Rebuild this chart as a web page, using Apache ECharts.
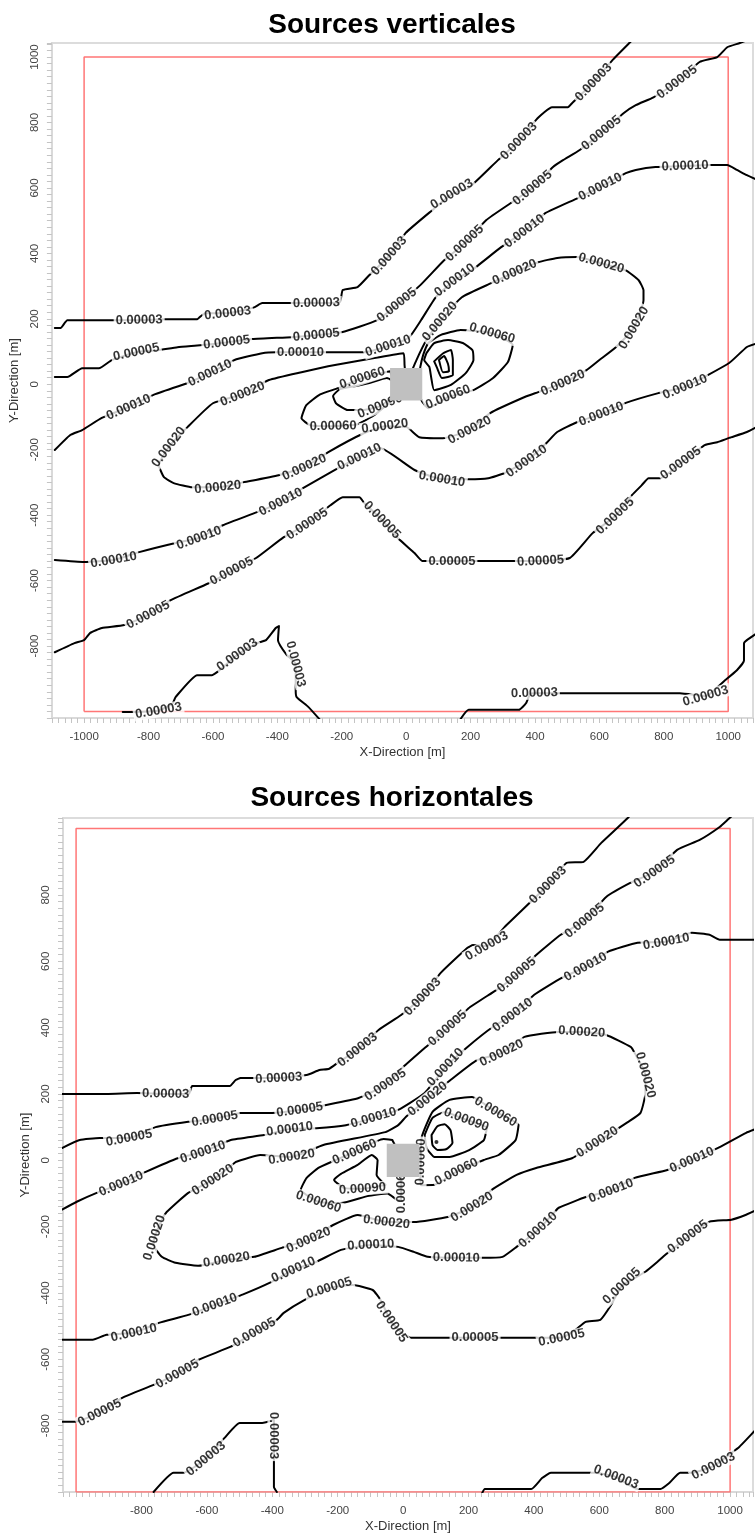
<!DOCTYPE html>
<html><head><meta charset="utf-8">
<script src="https://cdn.jsdelivr.net/npm/echarts@6/dist/echarts.min.js"></script>
<style>html,body{margin:0;padding:0;background:#fff}#c{width:756px;height:1537px}</style>
</head><body><div id="c"></div>
<script>
// ---------- DATA (metres). A third element 'L' marks a contour label position on the line ----------
const TITLE_V = 'Sources verticales';
const TITLE_H = 'Sources horizontales';
const V_XTICKS = [-1000,-800,-600,-400,-200,0,200,400,600,800,1000];
const V_YTICKS = [-800,-600,-400,-200,0,200,400,600,800,1000];
const H_XTICKS = [-800,-600,-400,-200,0,200,400,600,800,1000];
const H_YTICKS = [-800,-600,-400,-200,0,200,400,600,800];
const studyArea = [[-1000,-1000],[1000,-1000],[1000,1000],[-1000,1000],[-1000,-1000]];
const sourceBox = [-50,-50,50,50];

// ---- Sources verticales ----
const V_03a = [[-1091,172],[-1073,172],[-1052,196],[-914,196],[-829,196,'L'],[-746,199],[-649,199],[-634,211],[-624,217],[-554,217,'L'],[-472,235],[-447,248],[-356,248],[-279,248,'L'],[-206,251],[-197,288],[-151,297],[-114,334],[-53,392,'L'],[-2,462],[81,532],[142,581,'L'],[194,600],[285,685],[350,743,'L'],[408,813],[453,847],[502,847],[518,862],[582,923,'L'],[640,990],[692,1042],[734,1083]];
const V_05a = [[-1091,22],[-1052,22],[-1006,49],[-954,49],[-914,74],[-838,98,'L'],[-771,104],[-710,113],[-640,119],[-557,128,'L'],[-478,138],[-356,144],[-279,150,'L'],[-197,160],[-90,196],[-29,242,'L'],[44,303],[118,379],[182,431,'L'],[249,502],[325,554],[392,600,'L'],[456,664],[487,685],[539,716],[606,768,'L'],[676,829],[713,853],[768,877],[841,923,'L'],[911,985],[966,1000],[997,1030],[1036,1043],[1080,1060]];
const V_10a = [[-1091,-201],[-1043,-155],[-1006,-140],[-945,-103],[-862,-70,'L'],[-786,-33],[-679,4],[-609,34,'L'],[-533,74],[-447,95],[-404,98],[-328,98,'L'],[-249,98],[-130,98],[-56,117,'L'],[8,142],[47,197],[93,267],[151,318,'L'],[203,348],[295,419],[368,468,'L'],[432,523],[533,569],[603,603,'L'],[682,645],[713,655],[774,664],[866,667,'L'],[945,670],[997,670],[1027,655],[1058,639],[1090,625]];
const V_20 = [[0,0],[-5,59],[-8,95],[-99,80],[-221,59],[-325,37],[-426,13],[-508,-30,'L'],[-600,-58],[-679,-131],[-737,-192,'L'],[-768,-247],[-752,-284],[-722,-302],[-664,-315],[-585,-315,'L'],[-502,-299],[-396,-278],[-316,-254,'L'],[-243,-208],[-130,-149],[-66,-128,'L'],[2,-131],[41,-162],[114,-165],[197,-140,'L'],[261,-88],[368,-39],[410,-24],[487,4,'L'],[560,43],[600,74],[652,114],[707,172,'L'],[737,257],[737,287],[722,318],[682,348],[606,370,'L'],[530,389],[469,386],[410,373],[337,342,'L'],[264,309],[173,266],[105,192,'L'],[63,135],[32,74],[0,0]];
const V_60L = [[-50,40],[-136,19,'L'],[-212,-12],[-267,-31],[-310,-64],[-325,-104],[-298,-125],[-227,-128,'L'],[-151,-122],[-96,-92],[-50,-54],[-29,-18],[-50,40]];
const V_90L = [[-44,-42],[-81,-67,'L'],[-136,-79],[-182,-79],[-218,-58],[-227,-36],[-206,-15],[-160,-6],[-114,4],[-60,19],[-30,0],[-44,-42]];
const V_60R = [[40,20],[44,53],[53,90],[69,126],[108,151],[169,166],[267,156,'L'],[331,120],[316,68],[270,19],[209,-18],[130,-39,'L'],[69,-73],[47,-48],[40,20]];
const V_90R = [[63,95],[87,126],[130,135],[176,126],[206,104],[209,74],[185,34],[139,-2],[87,-18],[78,19],[72,53],[56,74],[63,95]];
const V_R3 = [[87,70],[114,94],[139,105],[145,74],[145,28],[111,19],[96,50],[87,70]];
const V_R4 = [[102,74],[118,86],[130,62],[133,40],[114,37],[102,74]];
const V_10b = [[1090,125],[1058,114],[1003,65],[866,-8,'L'],[783,-27],[682,-57],[606,-91,'L'],[530,-116],[469,-146],[438,-177],[374,-235,'L'],[304,-272],[255,-287],[194,-290],[111,-290,'L'],[26,-262],[-81,-195],[-145,-222,'L'],[-221,-262],[-319,-317],[-389,-360,'L'],[-463,-391],[-569,-431],[-643,-470,'L'],[-716,-485],[-829,-513],[-908,-537,'L'],[-1000,-543],[-1091,-537]];
const V_05b = [[1090,-130],[1058,-146],[1003,-164],[966,-177],[927,-186],[853,-241,'L'],[789,-287],[753,-287],[731,-309],[701,-339],[649,-403,'L'],[579,-455],[508,-531],[417,-540,'L'],[340,-540],[227,-540],[142,-540,'L'],[50,-540],[26,-516],[-26,-470],[-75,-415,'L'],[-130,-363],[-145,-345],[-197,-345],[-234,-369],[-307,-427,'L'],[-380,-467],[-466,-531],[-542,-571,'L'],[-615,-609],[-731,-660],[-801,-705,'L'],[-875,-736],[-945,-745],[-981,-760],[-1000,-782],[-1030,-791],[-1091,-819]];
const V_03b = [[-880,-1002],[-769,-998,'L'],[-725,-975],[-716,-956],[-649,-889],[-603,-889],[-578,-873],[-524,-827,'L'],[-463,-791],[-435,-782],[-405,-745],[-395,-739],[-398,-782],[-371,-827],[-343,-855,'L'],[-343,-935],[-340,-956],[-304,-986],[-267,-1026]];
const V_03c = [[167,-1026],[194,-995],[350,-995],[372,-975],[385,-946],[398,-944,'L'],[478,-944],[850,-944],[930,-953,'L'],[991,-904],[1027,-874],[1049,-844],[1049,-792],[1058,-782],[1090,-760]];

// ---- Sources horizontales ----
const H_03a = [[-1043,200],[-907,200],[-814,203],[-726,200,'L'],[-655,200],[-645,224],[-530,224],[-512,242],[-497,248],[-461,248],[-380,248,'L'],[-295,257],[-256,272],[-226,276],[-196,297],[-139,333,'L'],[-75,393],[-6,438],[60,493,'L'],[115,565],[196,640],[214,649],[256,646,'L'],[310,703],[443,830,'L'],[500,897],[552,900],[606,957],[687,1032],[720,1070]];
const H_05a = [[-1043,37],[-989,61],[-928,67],[-838,67,'L'],[-757,100],[-657,116],[-576,125,'L'],[-497,143],[-401,143],[-316,152,'L'],[-235,167],[-136,188],[-54,227,'L'],[0,281],[69,341],[136,398,'L'],[205,462],[286,514],[347,559,'L'],[407,619],[482,680],[555,722,'L'],[621,794],[696,837],[769,870,'L'],[838,936],[907,966],[968,1005],[995,1029],[1030,1060]];
const H_10a = [[-1043,-149],[-998,-125],[-937,-98],[-862,-71,'L'],[-787,-35],[-687,7],[-612,25,'L'],[-527,61],[-425,76],[-347,94,'L'],[-265,97],[-175,106],[-90,128,'L'],[-15,152],[66,203],[130,281,'L'],[196,341],[274,402],[335,438,'L'],[401,499],[485,550],[558,583,'L'],[627,629],[717,656],[805,659,'L'],[883,686],[937,680],[968,665],[1049,665],[1080,665]];
const H_20 = [[-512,-5],[-437,16],[-341,10,'L'],[-244,46],[-54,85],[-15,106],[9,131],[75,185,'L'],[145,242],[226,302],[301,323,'L'],[371,372],[476,387],[546,387,'L'],[621,378],[696,342],[708,324],[741,257,'L'],[741,203],[726,143],[687,115],[594,55,'L'],[518,7],[407,-23],[347,-44],[271,-89],[211,-141,'L'],[136,-171],[33,-186],[-51,-186,'L'],[-139,-165],[-214,-195],[-289,-240,'L'],[-371,-264],[-455,-291],[-540,-300,'L'],[-627,-318],[-696,-309],[-738,-291],[-763,-255],[-760,-234,'L'],[-738,-180],[-723,-156],[-657,-98],[-582,-59,'L'],[-512,-5]];
const H_60L = [[-33,61],[-60,64],[-148,25,'L'],[-220,-5],[-259,-23],[-295,-53],[-313,-89],[-259,-125,'L'],[-190,-129],[-109,-108],[-48,-100],[-20,-118],[-6,-120],[-6,-89,'L'],[-6,0],[-33,61]];
const H_90L = [[-54,-74],[-124,-86,'L'],[-181,-83],[-211,-59],[-190,-41],[-139,-14],[-96,16],[-78,1],[-81,-44],[-54,-74]];
const H_60R = [[55,-75],[53,-60],[54,-5,'L'],[57,70],[90,146],[142,182],[211,191],[283,146,'L'],[353,107],[344,61],[292,16],[247,1],[163,-35,'L'],[96,-74],[55,-75]];
const H_90R = [[66,77],[90,128],[127,146],[193,122,'L'],[256,98],[247,61],[202,31],[142,10],[96,10],[72,37],[66,77]];
const H_R3 = [[87,76],[105,103],[127,109],[145,91],[151,52],[133,34],[105,31],[90,46],[87,76]];
const H_PEAK = [[102,55]];
const H_10b = [[1080,95],[1049,83],[968,40],[883,1,'L'],[808,-29],[708,-53],[636,-92,'L'],[561,-110],[476,-143],[461,-158],[413,-210,'L'],[347,-261],[304,-291],[244,-294],[163,-294,'L'],[75,-291],[33,-276],[-15,-261],[-99,-255,'L'],[-190,-270],[-265,-306],[-335,-330,'L'],[-407,-369],[-491,-405],[-576,-436,'L'],[-657,-466],[-747,-490],[-823,-520,'L'],[-907,-526],[-949,-541],[-1043,-541]];
const H_05b = [[1080,-150],[1049,-164],[1004,-179],[937,-185],[871,-231,'L'],[802,-285],[778,-306],[741,-336],[669,-379,'L'],[636,-436],[603,-481],[558,-487],[527,-511],[485,-535,'L'],[407,-535],[304,-535],[220,-535,'L'],[139,-535],[24,-535],[0,-523],[-36,-487,'L'],[-69,-421],[-93,-391],[-154,-376],[-226,-385,'L'],[-301,-421],[-365,-460],[-386,-481],[-455,-520,'L'],[-527,-562],[-627,-602],[-690,-644,'L'],[-763,-677],[-859,-716],[-928,-761,'L'],[-1004,-788],[-1043,-788]];
const H_03b = [[-763,-1000],[-702,-942],[-672,-942],[-603,-900,'L'],[-546,-837],[-500,-792],[-431,-792],[-395,-783],[-395,-830,'L'],[-395,-985],[-386,-1000]];
const H_03c = [[241,-1005],[250,-991],[392,-991],[425,-958],[452,-942],[588,-942],[651,-955,'L'],[717,-991],[787,-991],[814,-973],[847,-942],[883,-942],[949,-922,'L'],[1004,-882],[1028,-864],[1049,-843],[1080,-810]];

const V_LINES = [['0.00003',V_03a],['0.00005',V_05a],['0.00010',V_10a],['0.00020',V_20],['0.00060',V_60L],['0.00090',V_90L],['0.00060',V_60R],['0.00090',V_90R],['0.00120',V_R3],['0.00150',V_R4],['0.00010',V_10b],['0.00005',V_05b],['0.00003',V_03b],['0.00003',V_03c]];
const H_LINES = [['0.00003',H_03a],['0.00005',H_05a],['0.00010',H_10a],['0.00020',H_20],['0.00060',H_60L],['0.00090',H_90L],['0.00060',H_60R],['0.00090',H_90R],['0.00120',H_R3],['0.00010',H_10b],['0.00005',H_05b],['0.00003',H_03b],['0.00003',H_03c]];

// ---------- CHART ----------
const FONT = "'Liberation Sans', Arial, sans-serif";
const chart = echarts.init(document.getElementById('c'), null, {renderer:'canvas', width:756, height:1537});

function labelsOf(lines) {
  const out = [];
  lines.forEach(([lv, pts]) => {
    pts.forEach((p, i) => {
      if (p[2] !== 'L') return;
      const a = pts[Math.max(0, i - 1)], b = pts[Math.min(pts.length - 1, i + 1)];
      let ang = Math.atan2(b[1] - a[1], b[0] - a[0]) * 180 / Math.PI;
      if (ang > 90) ang -= 180;
      if (ang < -90) ang += 180;
      out.push({name: lv, value: [p[0], p[1]], label: {rotate: ang}});
    });
  });
  return out;
}

function xAxis(gi, min, max, ticks) {
  return {type:'value', gridIndex:gi, min, max, interval:20,
    name:'X-Direction [m]', nameLocation:'middle', nameGap:28,
    nameTextStyle:{fontFamily:FONT, fontSize:13, color:'#333'},
    axisLine:{show:true, onZero:false, lineStyle:{color:'#d9d9d9', width:2}},
    axisTick:{show:true, length:5, lineStyle:{color:'#c4c4c4'}},
    axisLabel:{margin:13, fontFamily:FONT, fontSize:11.5, color:'#444',
      formatter: v => ticks.includes(Math.round(v)) ? String(Math.round(v)) : ''},
    splitLine:{show:false}};
}
function yAxis(gi, min, max, ticks) {
  return {type:'value', gridIndex:gi, min, max, interval:20,
    name:'Y-Direction [m]', nameLocation:'middle', nameGap:22, nameRotate:90,
    nameTextStyle:{fontFamily:FONT, fontSize:13, color:'#333'},
    axisLine:{show:true, onZero:false, lineStyle:{color:'#d9d9d9', width:2}},
    axisTick:{show:true, length:5, lineStyle:{color:'#c4c4c4'}},
    axisLabel:{rotate:90, margin:11, fontFamily:FONT, fontSize:11.5, color:'#444',
      formatter: v => ticks.includes(Math.round(v)) ? String(Math.round(v)) : ''},
    splitLine:{show:false}};
}

function seriesFor(gi, lines) {
  const s = [];
  s.push({type:'line', xAxisIndex:gi, yAxisIndex:gi, data:studyArea, symbol:'none', silent:true, z:2,
    lineStyle:{color:'#ff7676', width:1.5}});
  lines.forEach(([lv, pts]) => {
    s.push({type:'line', xAxisIndex:gi, yAxisIndex:gi, data:pts.map(p => [p[0], p[1]]), symbol:'none', silent:true, z:3,
      smooth:0.15, lineStyle:{color:'#000', width:2, join:'round', cap:'round'}});
  });
  s.push({type:'scatter', xAxisIndex:gi, yAxisIndex:gi, data:labelsOf(lines), symbolSize:0, silent:true, z:5,
    label:{show:true, position:'inside', formatter:'{b}', fontFamily:FONT, fontSize:13, fontWeight:'bold',
      color:'#000', backgroundColor:'#fff', padding:[0,2]}});
  s.push({type:'custom', xAxisIndex:gi, yAxisIndex:gi, data:[sourceBox], silent:true, z:10,
    renderItem:(params, api) => {
      const p0 = api.coord([api.value(0), api.value(3)]);
      const p1 = api.coord([api.value(2), api.value(1)]);
      return {type:'rect', shape:{x:p0[0], y:p0[1], width:p1[0]-p0[0], height:p1[1]-p0[1]}, style:{fill:'#c0c0c0'}};
    }});
  return s;
}

const hPeak = {type:'scatter', xAxisIndex:1, yAxisIndex:1, data:H_PEAK, symbol:'circle', symbolSize:4, silent:true, z:6,
  itemStyle:{color:'#000'}};

chart.setOption({
  animation:false,
  backgroundColor:'#fff',
  title:[
    {text:TITLE_V, left:387, top:6, textAlign:'center', textStyle:{fontFamily:FONT, fontSize:28, fontWeight:'bold', color:'#000'}},
    {text:TITLE_H, left:387, top:779, textAlign:'center', textStyle:{fontFamily:FONT, fontSize:28, fontWeight:'bold', color:'#000'}}
  ],
  grid:[
    {left:49, top:43, width:713, height:675, show:true, borderColor:'#dcdcdc', borderWidth:2, backgroundColor:'#fff'},
    {left:63, top:818, width:700, height:674, show:true, borderColor:'#dcdcdc', borderWidth:2, backgroundColor:'#fff'}
  ],
  xAxis:[xAxis(0, -1100, 1077, V_XTICKS), xAxis(1, -1040, 1070, H_XTICKS)],
  yAxis:[yAxis(0, -1020, 1043, V_YTICKS), yAxis(1, -1000, 1032, H_YTICKS)],
  series:[...seriesFor(0, V_LINES), ...seriesFor(1, H_LINES), hPeak]
});
</script></body></html>
